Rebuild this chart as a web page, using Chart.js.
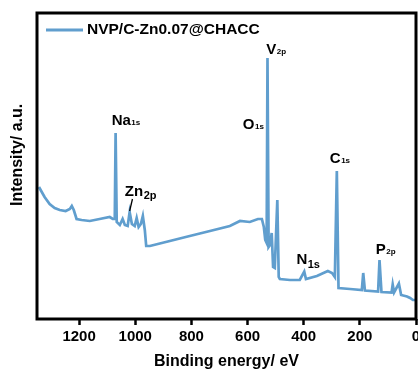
<!DOCTYPE html>
<html>
<head>
<meta charset="utf-8">
<script src="https://cdn.jsdelivr.net/npm/chart.js@4/dist/chart.umd.min.js"></script>
<style>
  html, body { margin: 0; padding: 0; overflow: hidden; background: #fff; }
  canvas { display: block; }
</style>
</head>
<body>
<canvas id="grafik" width="440" height="376"></canvas>
<script>
// XPS survey (a.u.)
const energi = [1343, 1333, 1323, 1305, 1287, 1269, 1248, 1233, 1226, 1219, 1209, 1191, 1162, 1127, 1091,
  1080, 1073, 1070, 1066, 1055, 1045, 1037, 1027, 1020, 1012, 1002, 995, 988, 980, 973, 966, 961, 948,
  877, 806, 734, 663, 627, 592, 563, 549, 542, 537, 532, 529, 525, 520, 514, 509, 503, 494, 489, 485,
  449, 414, 398, 392, 353, 314, 299, 289, 282, 276, 235, 193, 188, 182, 135, 130, 123, 87, 83, 78, 61,
  53, 32, 21, 11, 0];
const intensitas = [132, 127, 122, 115, 111, 109, 108, 110, 113, 109, 100, 99, 98, 100, 102,
  100, 100, 186, 97, 94, 100, 94, 93, 107, 95, 93, 101, 92, 95, 103, 89, 73, 73,
  78, 83, 88, 93, 98, 97, 100, 100, 92, 79, 76, 261, 72, 74, 86, 52, 51, 119, 42, 40,
  39, 39, 47.5, 40, 43, 48, 46, 42, 148, 31, 30, 29, 46, 28.5, 27.5, 59, 27, 26.5, 34.5, 26.5, 35.5,
  24, 22.5, 21, 19, 19];
const xTicks = [1200, 1000, 800, 600, 400, 200, 0];

const namaSeri = "NVP/C-Zn0.07@CHACC";
const warnaGaris = "#609ece";

// label puncak: teks utama + subskrip, posisi dalam koordinat data
const labelPuncak = [
  { teks: "Na", sub: "1s", ev: 1084, y: 194, besar: 15, kecil: 8, turun: 0 },
  { teks: "Zn", sub: "2p", ev: 1037, y: 123, besar: 15, kecil: 11, turun: 3 },
  { teks: "O", sub: "1s", ev: 617, y: 190, besar: 15, kecil: 8, turun: 0 },
  { teks: "V", sub: "2p", ev: 533, y: 265, besar: 15, kecil: 8, turun: 0 },
  { teks: "C", sub: "1s", ev: 307, y: 156, besar: 15, kecil: 8, turun: 0 },
  { teks: "N", sub: "1s", ev: 426, y: 55, besar: 15, kecil: 11, turun: 4 },
  { teks: "P", sub: "2p", ev: 143, y: 65, besar: 15, kecil: 8, turun: 0 }
];
const garisZn = [[1010, 120], [1020, 108]];

const FONT = "'Liberation Sans', Arial, sans-serif";

// bingkai kotak + legenda di dalam area plot
const pluginBingkai = {
  id: "bingkai",
  afterDraw(chart) {
    const { ctx, chartArea: a } = chart;
    const ds = chart.data.datasets[0];
    ctx.save();
    ctx.strokeStyle = "#000";
    ctx.lineWidth = 3;
    ctx.strokeRect(a.left, a.top, a.right - a.left, a.bottom - a.top);

    const lx = a.left + 9, ly = a.top + 17;
    ctx.strokeStyle = ds.borderColor;
    ctx.lineWidth = 3;
    ctx.beginPath();
    ctx.moveTo(lx, ly);
    ctx.lineTo(lx + 37, ly);
    ctx.stroke();
    ctx.fillStyle = "#000";
    ctx.font = `bold 15.5px ${FONT}`;
    ctx.textBaseline = "middle";
    ctx.fillText(ds.label, lx + 41, ly);
    ctx.restore();
  }
};

const pluginLabel = {
  id: "labelPuncak",
  afterDatasetsDraw(chart) {
    const { ctx, scales } = chart;
    const sx = scales.x, sy = scales.y;
    ctx.save();
    ctx.fillStyle = "#000";
    ctx.textBaseline = "alphabetic";
    ctx.textAlign = "left";
    labelPuncak.forEach(l => {
      const px = sx.getPixelForValue(l.ev);
      const py = sy.getPixelForValue(l.y);
      ctx.font = `bold ${l.besar}px ${FONT}`;
      ctx.fillText(l.teks, px, py);
      const w = ctx.measureText(l.teks).width;
      ctx.font = `bold ${l.kecil}px ${FONT}`;
      ctx.fillText(l.sub, px + w + 0.5, py + l.turun);
    });
    ctx.strokeStyle = "#000";
    ctx.lineWidth = 1.3;
    ctx.beginPath();
    ctx.moveTo(sx.getPixelForValue(garisZn[0][0]), sy.getPixelForValue(garisZn[0][1]));
    ctx.lineTo(sx.getPixelForValue(garisZn[1][0]), sy.getPixelForValue(garisZn[1][1]));
    ctx.stroke();
    ctx.restore();
  }
};

new Chart(document.getElementById("grafik"), {
  type: "line",
  data: {
    datasets: [{
      label: namaSeri,
      data: energi.map((e, i) => ({ x: e, y: intensitas[i] })),
      borderColor: warnaGaris,
      backgroundColor: warnaGaris,
      borderWidth: 2.7,
      pointRadius: 0,
      tension: 0
    }]
  },
  options: {
    responsive: false,
    animation: false,
    layout: { padding: { top: 13, right: 24, left: 0, bottom: 0 } },
    scales: {
      x: {
        type: "linear",
        reverse: true,
        min: 0,
        max: 1350,
        afterBuildTicks: s => { s.ticks = xTicks.map(v => ({ value: v })); },
        afterFit: s => { s.height = 57; },
        ticks: {
          color: "#000",
          font: { family: FONT, size: 15, weight: "bold" },
          padding: 3,
          maxRotation: 0,
          autoSkip: false,
          callback: v => String(v)
        },
        grid: { drawOnChartArea: false, drawTicks: true, tickLength: 6, tickWidth: 2.5, color: "#000" },
        border: { display: false },
        title: { display: true, text: "Binding energy/ eV", color: "#000", font: { family: FONT, size: 16, weight: "bold" }, padding: { top: 0, bottom: 4.5 } }
      },
      y: {
        min: 0,
        max: 306,
        afterFit: s => { s.width = 37; },
        ticks: { display: false },
        grid: { display: false },
        border: { display: false },
        title: { display: true, text: "     Intensity/ a.u.", color: "#000", font: { family: FONT, size: 16, weight: "bold" }, padding: { top: 7.5, bottom: 0 } }
      }
    },
    plugins: {
      legend: { display: false },
      tooltip: { enabled: false }
    }
  },
  plugins: [pluginLabel, pluginBingkai]
});
</script>
</body>
</html>
